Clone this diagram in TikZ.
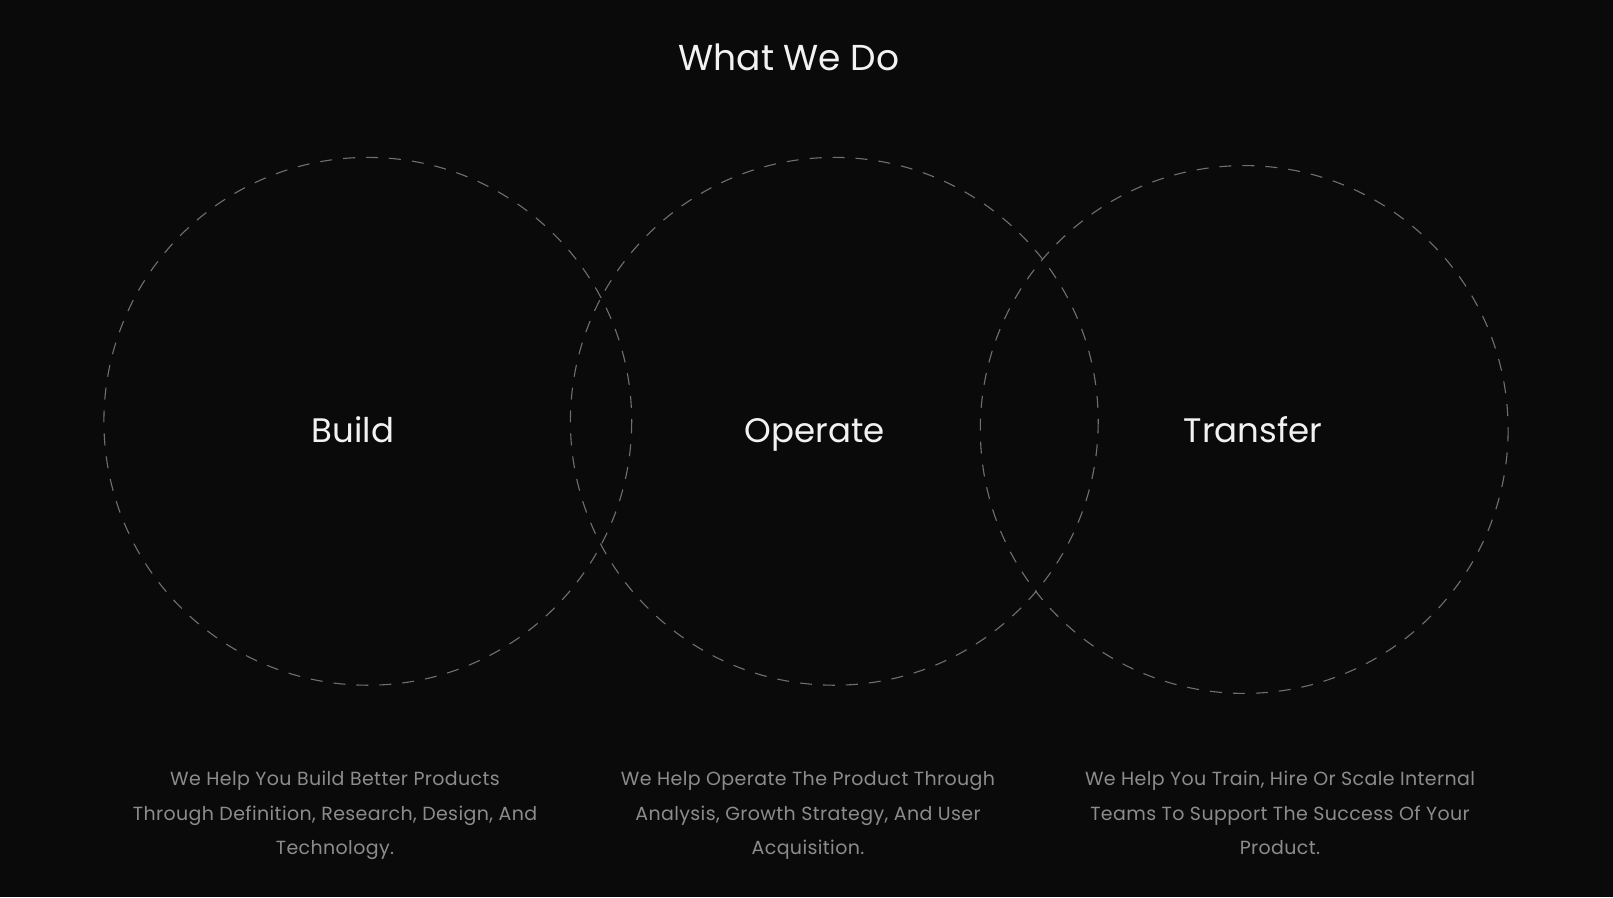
\documentclass[tikz,border=0pt]{standalone}
\usepackage{fontspec}
\setmainfont{Poppins}
\definecolor{bg}{HTML}{0A0A0A}
\definecolor{ring}{HTML}{707070}
\definecolor{head}{HTML}{F2F2F2}
\definecolor{body}{HTML}{8C8C8C}
\begin{document}
\begin{tikzpicture}[x=1pt,y=-1pt,
  ringstyle/.style={draw=ring,line width=1.1pt,dash pattern=on 12pt off 11pt},
  title/.style={text=head,anchor=base,inner sep=0pt,font=\fontsize{36}{40}\selectfont},
  label/.style={text=head,anchor=base,inner sep=0pt,font=\fontsize{34}{40}\selectfont},
  desc/.style={text=body,anchor=base,inner sep=0pt,align=center,
    font=\fontsize{19}{34.3}\selectfont\addfontfeatures{LetterSpace=2}}]
  \fill[bg] (0,0) rectangle (1613,897);
  \useasboundingbox (0,0) rectangle (1613,897);

  % heading
  \node[title] (head) at (789,70.7) {What We Do};

  % the three dashed rings
  \draw[ringstyle] (367.8,421.3) circle (263.9);
  \draw[ringstyle] (834.3,421.3) circle (263.9);
  \draw[ringstyle] (1244.2,429.5) circle (263.9);

  % ring labels
  \node[label] (build) at (353,442.3) {Build};
  \node[label] (operate) at (814.5,442.3) {Operate};
  \node[label] (transfer) at (1253,442.3) {Transfer};

  % descriptions (node base sits on the last line)
  \node[desc] (dbuild) at (335,854.3) {We Help You Build Better Products\\Through Definition, Research, Design, And\\Technology.};
  \node[desc] (doperate) at (808,854.3) {We Help Operate The Product Through\\Analysis, Growth Strategy, And User\\Acquisition.};
  \node[desc] (dtransfer) at (1280,854.3) {We Help You Train, Hire Or Scale Internal\\Teams To Support The Success Of Your\\Product.};
\end{tikzpicture}
\end{document}
